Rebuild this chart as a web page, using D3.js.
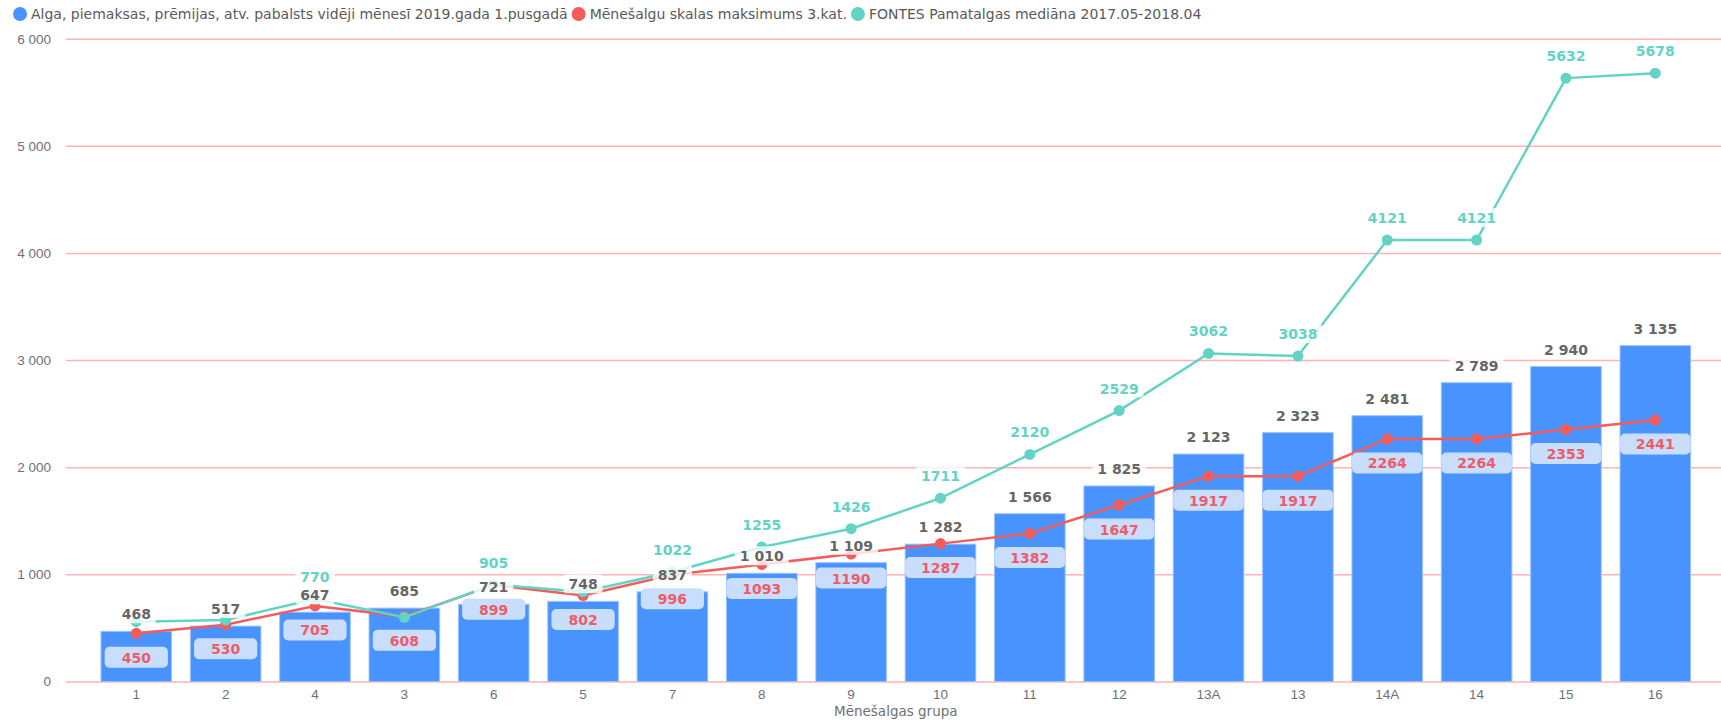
<!DOCTYPE html>
<html>
<head>
<meta charset="utf-8">
<script src="https://cdn.jsdelivr.net/npm/d3@7"></script>
<style>
    body { margin: 0; background: #fff; }
    svg { display: block; font-family: "DejaVu Sans", "Noto Sans", sans-serif; }
</style>
</head>
<body>
<div id="chart"></div>
<script>
// data
let groups = ["1", "2", "4", "3", "6", "5", "7", "8", "9", "10", "11", "12", "13A", "13", "14A", "14", "15", "16"];
let avgPay = [468, 517, 647, 685, 721, 748, 837, 1010, 1109, 1282, 1566, 1825, 2123, 2323, 2481, 2789, 2940, 3135];
let scaleMax = [450, 530, 705, 608, 899, 802, 996, 1093, 1190, 1287, 1382, 1647, 1917, 1917, 2264, 2264, 2353, 2441];
let fontesMedian = [558, 574, 770, 599, 905, 838, 1022, 1255, 1426, 1711, 2120, 2529, 3062, 3038, 4121, 4121, 5632, 5678];
let fontesHidden = [0, 1, 3, 5]; // labels dropped in the original because they overlap
let yTicks = [0, 1000, 2000, 3000, 4000, 5000, 6000];
let seriesNames = [
    "Alga, piemaksas, prēmijas, atv. pabalsts vidēji mēnesī 2019.gada 1.pusgadā",
    "Mēnešalgu skalas maksimums 3.kat.",
    "FONTES Pamatalgas mediāna 2017.05-2018.04"
];
let axisName = "Mēnešalgas grupa";

let W = 1721, H = 720;
let blue = "#4893fd", red = "#f45b5b", teal = "#62d3c5";

let locale = d3.formatLocale({ decimal: ".", thousands: " ", grouping: [3], currency: ["", ""] });
let fmt = locale.format(",");

let svg = d3.select("#chart").append("svg")
    .attr("width", W)
    .attr("height", H);

let x = d3.scaleBand()
    .domain(groups)
    .range([91.6, 1700])
    .paddingInner(0.21)
    .paddingOuter(0.105);

let y = d3.scaleLinear()
    .domain([0, 6000])
    .range([681.5, 38.7]);

let cx = function (i) { return x(groups[i]) + x.bandwidth() / 2; };

// grid + y axis
let yAxis = svg.append("g")
    .attr("transform", "translate(66,0)")
    .call(d3.axisLeft(y).tickValues(yTicks).tickSize(-(W - 66)).tickFormat(fmt));
yAxis.select(".domain").remove();
yAxis.selectAll("line").attr("stroke", "#ffb3b3").attr("stroke-width", 1.5);
yAxis.selectAll("text")
    .attr("x", -15)
    .attr("fill", "#6e7079")
    .style("font-size", "13.5px");

// x axis
let xAxis = svg.append("g")
    .attr("transform", "translate(0," + y(0) + ")")
    .call(d3.axisBottom(x).tickSize(0));
xAxis.select(".domain").remove();
xAxis.selectAll("text")
    .attr("y", 8)
    .attr("fill", "#6e7079")
    .style("font-size", "13.5px");

svg.append("text")
    .attr("x", (x.range()[0] + x.range()[1]) / 2)
    .attr("y", 716)
    .attr("text-anchor", "middle")
    .attr("fill", "#6e7079")
    .style("font-size", "13.5px")
    .text(axisName);

// bars
svg.append("g").selectAll("rect")
    .data(avgPay)
    .enter().append("rect")
    .attr("x", function (d, i) { return x(groups[i]); })
    .attr("y", function (d) { return y(d); })
    .attr("width", x.bandwidth())
    .attr("height", function (d) { return y(0) - y(d); })
    .attr("fill", blue)
    .attr("stroke", "#9cc2fd")
    .attr("stroke-width", 1);

// lines
function drawLine(values, color) {
    let line = d3.line()
        .x(function (d, i) { return cx(i); })
        .y(function (d) { return y(d); });
    let g = svg.append("g");
    g.append("path")
        .datum(values)
        .attr("d", line)
        .attr("fill", "none")
        .attr("stroke", color)
        .attr("stroke-width", 2.5);
    g.selectAll("circle")
        .data(values)
        .enter().append("circle")
        .attr("cx", function (d, i) { return cx(i); })
        .attr("cy", function (d) { return y(d); })
        .attr("r", 5.5)
        .attr("fill", color);
}
drawLine(scaleMax, red);
drawLine(fontesMedian, teal);

// labels with a box behind them
let labels = svg.append("g").style("font-weight", "bold").style("font-size", "14px");

function boxLabel(px, baseline, txt, color, bg, opts) {
    let g = labels.append("g");
    let rect = g.append("rect");
    let t = g.append("text")
        .attr("x", px)
        .attr("y", baseline)
        .attr("text-anchor", "middle")
        .attr("fill", color)
        .text(txt);
    let tw = t.node().getComputedTextLength();
    let bw = Math.min(tw + opts.pad, opts.maxW || 1e9);
    rect.attr("x", px - bw / 2)
        .attr("y", baseline - opts.h + opts.below)
        .attr("width", bw)
        .attr("height", opts.h)
        .attr("rx", opts.rx)
        .attr("fill", bg)
        .attr("fill-opacity", opts.op);
}

avgPay.forEach(function (v, i) {
    boxLabel(cx(i), y(v) - 12, fmt(v), "#666666", "#ffffff",
        { pad: 10, h: 19, below: 4, rx: 3, op: 0.8 });
});

scaleMax.forEach(function (v, i) {
    boxLabel(cx(i), y(v) + 29.5, String(v), "#ef5b66", "#c9defd",
        { pad: 34, maxW: x.bandwidth(), h: 21, below: 5, rx: 5, op: 1 });
});

fontesMedian.forEach(function (v, i) {
    if (fontesHidden.indexOf(i) >= 0) return;
    boxLabel(cx(i), y(v) - 17, String(v), teal, "#ffffff",
        { pad: 10, h: 19, below: 4, rx: 3, op: 0.8 });
});

// legend
let legend = svg.append("g").style("font-size", "14px");
let colors = [blue, red, teal];
let lx = 20;
seriesNames.forEach(function (name, i) {
    legend.append("circle")
        .attr("cx", lx)
        .attr("cy", 14)
        .attr("r", 7)
        .attr("fill", colors[i]);
    let t = legend.append("text")
        .attr("x", lx + 11)
        .attr("y", 19)
        .attr("fill", "#5a5a5a")
        .text(name);
    lx = lx + 11 + t.node().getComputedTextLength() + 11;
});
</script>
</body>
</html>
